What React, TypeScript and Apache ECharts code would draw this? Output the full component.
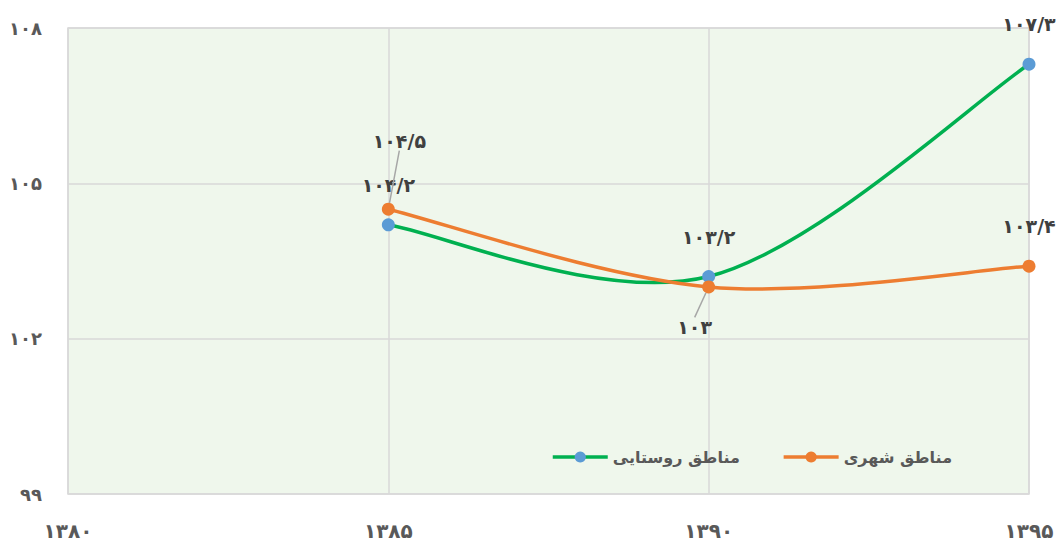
import React, { useEffect, useRef } from "react";
import * as echarts from "echarts";

const years = [1385, 1390, 1395];
const ruralValues = [104.2, 103.2, 107.3];
const urbanValues = [104.5, 103, 103.4];
const ruralName = "مناطق روستایی";
const urbanName = "مناطق شهری";
const xMin = 1380;
const xMax = 1395;
const xStep = 5;
const yMin = 99;
const yMax = 108;
const yStep = 3;

const GREEN = "#00b050";
const BLUE = "#5b9bd5";
const ORANGE = "#ed7d31";

const FA = "۰۱۲۳۴۵۶۷۸۹";
const toFa = (n: number) =>
  String(n)
    .replace(".", "/")
    .replace(/\d/g, (d) => FA[Number(d)]);

const FONT = "'DejaVu Sans', sans-serif";

// Smooth curve (Catmull-Rom like, as in spreadsheet charts) drawn through the axis scales
const smoothSeries = (values: number[], color: string, z: number) => ({
  type: "custom",
  coordinateSystem: "cartesian2d",
  silent: true,
  z,
  data: years.map((y, i) => [y, values[i]]),
  encode: { x: 0, y: 1 },
  renderItem: (params: any, api: any) => {
    const i = params.dataIndex;
    const n = years.length;
    if (i >= n - 1) return null;
    const pt = (j: number) => {
      const k = Math.max(0, Math.min(n - 1, j));
      return api.coord([years[k], values[k]]);
    };
    const p0 = pt(i - 1);
    const p1 = pt(i);
    const p2 = pt(i + 1);
    const p3 = pt(i + 2);
    const t = 1 / 6;
    return {
      type: "bezierCurve",
      shape: {
        x1: p1[0],
        y1: p1[1],
        x2: p2[0],
        y2: p2[1],
        cpx1: p1[0] + (p2[0] - p0[0]) * t,
        cpy1: p1[1] + (p2[1] - p0[1]) * t,
        cpx2: p2[0] - (p3[0] - p1[0]) * t,
        cpy2: p2[1] - (p3[1] - p1[1]) * t,
      },
      style: { stroke: color, lineWidth: 3.5, fill: "none", lineCap: "round" },
    };
  },
});

export default function App() {
  const ref = useRef<HTMLDivElement>(null);
  useEffect(() => {
    document.body.style.margin = "0";
    if (!ref.current) return;
    const chart = echarts.init(ref.current, undefined, { renderer: "svg" });
    const labelBase = {
      show: true,
      position: "top" as const,
      distance: 24,
      color: "#404040",
      fontFamily: FONT,
      fontWeight: "bold" as const,
      fontSize: 19,
      formatter: (p: any) => toFa(p.value[1]),
    };
    const guide = { show: true, lineStyle: { color: "#a6a6a6", width: 1.5 } };
    chart.setOption({
      animation: false,
      backgroundColor: "#ffffff",
      grid: {
        left: 68,
        right: 29,
        top: 28,
        bottom: 49,
        show: true,
        backgroundColor: "#eff7ec",
        borderColor: "#d9d9d9",
        borderWidth: 1.5,
      },
      legend: {
        left: 546,
        top: 444,
        itemWidth: 55,
        itemHeight: 14,
        itemGap: 42,
        data: [
          { name: ruralName, lineStyle: { color: GREEN, width: 3.5, opacity: 1 } },
          { name: urbanName, lineStyle: { color: ORANGE, width: 3.5, opacity: 1 } },
        ],
        textStyle: {
          color: "#595959",
          fontFamily: FONT,
          fontWeight: "bold",
          fontSize: 16,
        },
      },
      xAxis: {
        type: "value",
        min: xMin,
        max: xMax,
        interval: xStep,
        axisLine: { show: false },
        axisTick: { show: false },
        splitLine: { show: true, lineStyle: { color: "#d9d9d9", width: 1.5 } },
        axisLabel: {
          margin: 27,
          color: "#595959",
          fontFamily: FONT,
          fontWeight: "bold",
          fontSize: 20,
          formatter: (v: number) => toFa(v),
        },
      },
      yAxis: {
        type: "value",
        min: yMin,
        max: yMax,
        interval: yStep,
        axisLine: { show: false },
        axisTick: { show: false },
        splitLine: { show: true, lineStyle: { color: "#d9d9d9", width: 1.5 } },
        axisLabel: {
          margin: 26,
          color: "#595959",
          fontFamily: FONT,
          fontWeight: "bold",
          fontSize: 18,
          formatter: (v: number) => toFa(v),
        },
      },
      series: [
        smoothSeries(ruralValues, GREEN, 2),
        {
          name: ruralName,
          type: "line",
          symbol: "circle",
          symbolSize: 13,
          z: 3,
          itemStyle: { color: BLUE },
          lineStyle: { color: GREEN, width: 3.5, opacity: 0 },
          label: labelBase,
          data: years.map((y, i) => [y, ruralValues[i]]),
        },
        smoothSeries(urbanValues, ORANGE, 4),
        {
          name: urbanName,
          type: "line",
          symbol: "circle",
          symbolSize: 13,
          z: 5,
          itemStyle: { color: ORANGE },
          lineStyle: { color: ORANGE, width: 3.5, opacity: 0 },
          label: labelBase,
          labelLayout: (p: any) =>
            p.dataIndex === 0
              ? { dx: 11, dy: -28 }
              : p.dataIndex === 1
              ? { dx: -14, dy: 0 }
              : {},
          data: years.map((y, i) => {
            const item: any = { value: [y, urbanValues[i]] };
            if (i === 0) item.labelLine = guide;
            if (i === 1) {
              item.label = { position: "bottom" };
              item.labelLine = guide;
            }
            return item;
          }),
        },
      ],
    });
    return () => chart.dispose();
  }, []);
  return <div ref={ref} style={{ width: 1058, height: 543 }} />;
}
